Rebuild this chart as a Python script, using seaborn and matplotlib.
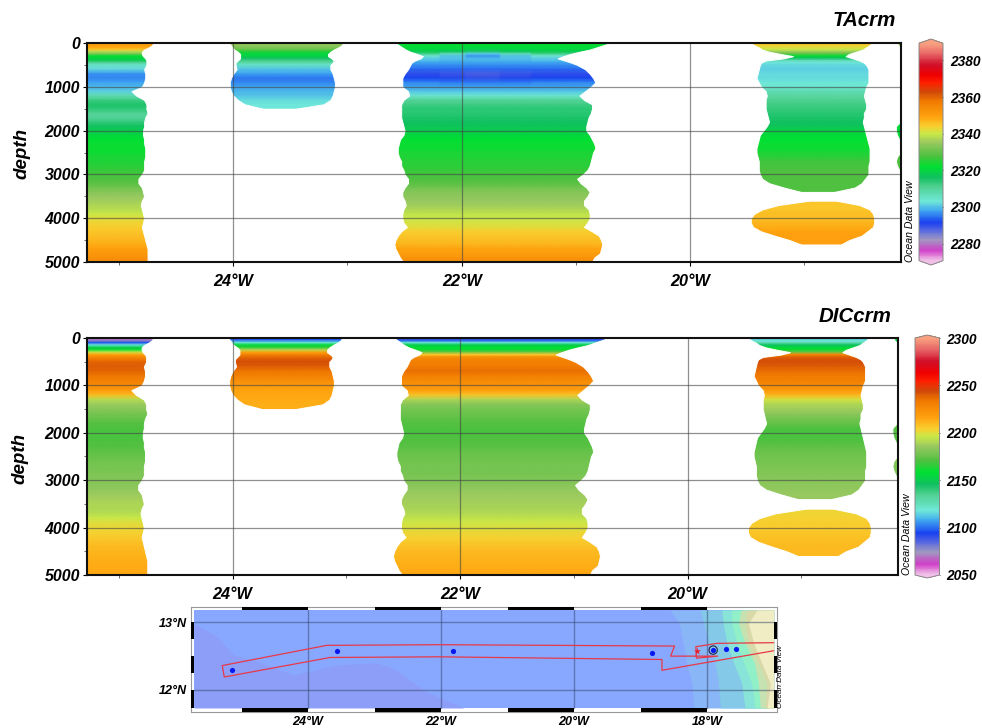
#!/usr/bin/env python3
"""TA and DIC sections along 12.5N, with the cruise track map underneath."""

import numpy as np
import pandas as pd
import matplotlib
matplotlib.use("Agg")
import matplotlib.pyplot as plt
import seaborn as sns
from matplotlib.colors import LinearSegmentedColormap

nan = float("nan")

# Depth levels of the gridded section
LEVELS = [0, 50, 100, 150, 200, 250, 300, 350, 400, 450, 500,
          600, 700, 800, 900, 1000, 1100, 1200, 1300, 1400, 1500, 1600, 1700, 1800, 1900,
          2000, 2100, 2200, 2300, 2400, 2500, 2600, 2700, 2800, 2900,
          3000, 3100, 3200, 3300, 3400, 3500, 3600, 3700, 3800, 3900,
          4000, 4100, 4200, 4300, 4400, 4500, 4600, 4700, 4800, 4900, 5000]

# Data window edges of each station, longitude per level
ST1_EAST = [-24.70, -24.71, -24.74, -24.78, -24.80, -24.80, -24.79, -24.77, -24.76, -24.76, -24.76,
            -24.78, -24.77, -24.77, -24.78, -24.80, -24.89, -24.85, -24.78, -24.76, -24.76, -24.75,
            -24.77, -24.78, -24.78, -24.79, -24.79, -24.78, -24.78, -24.77, -24.77, -24.77, -24.78,
            -24.78, -24.78, -24.80, -24.83, -24.83, -24.80, -24.79, -24.78, -24.80, -24.81, -24.80,
            -24.79, -24.78, -24.79, -24.80, -24.79, -24.78, -24.77, -24.76, -24.75, -24.75, -24.75, -24.75]
ST2_WEST = [-24.04, -24.02, -24.01, -23.99, -23.96, -23.94, -23.94, -23.94, -23.96, -23.98, -23.98,
            -23.97, -24.00, -24.02, -24.03, -24.03, -24.02, -24.00, -23.96, -23.90, -23.74]
ST2_EAST = [-23.04, -23.05, -23.08, -23.12, -23.15, -23.17, -23.17, -23.14, -23.12, -23.13, -23.15,
            -23.15, -23.13, -23.12, -23.11, -23.11, -23.12, -23.13, -23.15, -23.21, -23.45]
ST3_WEST = [-22.58, -22.55, -22.52, -22.49, -22.45, -22.39, -22.34, -22.36, -22.41, -22.44, -22.45,
            -22.47, -22.50, -22.52, -22.52, -22.52, -22.47, -22.46, -22.51, -22.53, -22.53, -22.53,
            -22.53, -22.52, -22.51, -22.50, -22.51, -22.54, -22.55, -22.56, -22.56, -22.55, -22.53,
            -22.53, -22.51, -22.50, -22.47, -22.47, -22.50, -22.52, -22.52, -22.50, -22.49, -22.51,
            -22.52, -22.52, -22.51, -22.48, -22.53, -22.56, -22.58, -22.59, -22.58, -22.56, -22.54, -22.51]
ST3_EAST = [-20.70, -20.76, -20.82, -20.88, -20.97, -21.05, -21.11, -21.16, -21.10, -21.04, -20.99,
            -20.92, -20.88, -20.85, -20.83, -20.87, -20.92, -20.97, -20.93, -20.86, -20.86, -20.87,
            -20.89, -20.90, -20.91, -20.91, -20.88, -20.86, -20.84, -20.83, -20.85, -20.86, -20.87,
            -20.88, -20.90, -20.94, -20.99, -20.96, -20.91, -20.88, -20.90, -20.93, -20.93, -20.89,
            -20.88, -20.88, -20.90, -20.93, -20.86, -20.80, -20.78, -20.77, -20.78, -20.79, -20.84, -20.86]
# Station 4 has a gap at 3500 m, 0-3400 m first and then 3600-4600 m
ST4_WEST = [-19.47, -19.44, -19.40, -19.37, -19.31, -19.21, -19.10, -19.18, -19.34, -19.38, -19.39,
            -19.40, -19.41, -19.42, -19.40, -19.38, -19.34, -19.33, -19.34, -19.34, -19.34, -19.33,
            -19.32, -19.31, -19.33, -19.36, -19.39, -19.40, -19.41, -19.42, -19.42, -19.41, -19.40,
            -19.40, -19.40, -19.39, -19.37, -19.31, -19.18, -19.03]
ST4_EAST = [-18.41, -18.43, -18.46, -18.49, -18.55, -18.61, -18.64, -18.58, -18.52, -18.48, -18.46,
            -18.44, -18.44, -18.44, -18.44, -18.46, -18.47, -18.48, -18.47, -18.46, -18.46, -18.48,
            -18.48, -18.49, -18.48, -18.47, -18.46, -18.45, -18.44, -18.43, -18.43, -18.43, -18.43,
            -18.44, -18.44, -18.44, -18.47, -18.50, -18.56, -18.74]
ST4_DEEP_WEST = [-18.96, -19.23, -19.37, -19.44, -19.47, -19.47, -19.45, -19.38, -19.26, -19.13, -19.03]
ST4_DEEP_EAST = [-18.72, -18.52, -18.43, -18.40, -18.39, -18.39, -18.40, -18.45, -18.50, -18.61, -18.68]
# Where the next station starts to show at the right edge
NEXT_WEST = [-18.19, -18.18, -18.16, -18.15, -18.15, -18.15, -18.15, -18.15, -18.15, -18.15, -18.15,
             -18.15, -18.15, -18.15, -18.15, -18.15, -18.15, -18.15, -18.15, -18.15, -18.15, -18.15,
             -18.15, -18.16, -18.20, -18.20, -18.19, -18.17, -18.15, -18.15, -18.16, -18.19, -18.20,
             -18.19, -18.17, -18.15, -18.15, -18.15, -18.15, -18.15, -18.15, -18.15, -18.15, -18.15,
             -18.15, -18.15, -18.15, -18.15, -18.15, -18.15, -18.15, -18.15, -18.15, -18.15, -18.15, -18.15]

# TAcrm profiles
TA_ST1 = [2350, 2350, 2349, 2345, 2338, 2333, 2322, 2320, 2318, 2311, 2305,
          2302, 2297, 2296, 2298, 2299, 2301, 2307, 2312, 2315, 2314, 2311, 2310, 2313, 2316,
          2318, 2320, 2322, 2323, 2323, 2323, 2324, 2324, 2325, 2326,
          2327, 2328, 2329, 2331, 2333, 2335, 2336, 2337, 2338, 2340,
          2342, 2343, 2344, 2345, 2346, 2347, 2348, 2350, 2351, 2353, 2354]
TA_ST2 = [2335, 2334, 2333, 2330, 2325, 2320, 2320, 2316, 2312, 2309, 2305,
          2300, 2298, 2295, 2296, 2298, 2299, 2300, 2302, 2303, 2303]
TA_ST3 = [2323, 2322, 2321, 2320, 2318, 2312, 2304, 2301, 2300, 2298, 2297,
          2294, 2290, 2292, 2296, 2298, 2300, 2304, 2310, 2312, 2314, 2314, 2315, 2316, 2317,
          2318, 2320, 2322, 2323, 2323, 2324, 2324, 2325, 2325, 2326,
          2327, 2328, 2329, 2331, 2333, 2334, 2335, 2336, 2337, 2339,
          2340, 2341, 2342, 2344, 2345, 2346, 2347, 2349, 2350, 2352, 2354]
TA_ST3_MID = [2323, 2322, 2321, 2320, 2317, 2307, 2300, 2300, 2299, 2298, 2297,
              2294, 2289, 2291, 2295, 2298]
TA_ST3_CORE = [2323, 2322, 2321, 2319, 2315, 2301, 2297, 2299, 2299, 2298, 2297,
               2294, 2288, 2290, 2295, 2298]
TA_ST4 = [2345, 2344, 2342, 2340, 2336, 2330, 2322, 2316, 2307, 2303, 2302,
          2301, 2302, 2302, 2303, 2304, 2307, 2309, 2311, 2312, 2313, 2314, 2315, 2316, 2317,
          2319, 2321, 2322, 2323, 2323, 2324, 2325, 2327, 2327, 2328,
          2328, 2328, 2328, 2328, 2328, nan, 2345, 2345, 2345, 2346,
          2346, 2347, 2348, 2349, 2350, 2350, 2350]

# DICcrm profiles
DIC_ST1 = [2065, 2072, 2095, 2118, 2150, 2160, 2195, 2215, 2226, 2232, 2238,
           2240, 2238, 2234, 2230, 2226, 2220, 2210, 2192, 2186, 2182, 2178, 2175, 2172, 2171,
           2170, 2170, 2171, 2172, 2174, 2175, 2177, 2178, 2179, 2180,
           2181, 2182, 2184, 2186, 2188, 2190, 2190, 2192, 2196, 2200,
           2202, 2204, 2206, 2208, 2210, 2211, 2212, 2213, 2214, 2214, 2215]
DIC_ST2 = [2094, 2100, 2118, 2155, 2165, 2190, 2215, 2228, 2236, 2240, 2243,
           2240, 2234, 2230, 2224, 2220, 2216, 2215, 2214, 2213, 2213]
DIC_ST3 = [2085, 2095, 2118, 2150, 2158, 2160, 2175, 2205, 2222, 2228, 2230,
           2232, 2236, 2230, 2226, 2222, 2218, 2208, 2190, 2182, 2178, 2176, 2174, 2172, 2171,
           2170, 2171, 2172, 2173, 2175, 2176, 2177, 2178, 2178, 2179,
           2180, 2182, 2184, 2186, 2187, 2188, 2189, 2191, 2194, 2197,
           2199, 2202, 2204, 2206, 2208, 2210, 2211, 2212, 2213, 2214, 2215]
DIC_ST4 = [2110, 2118, 2125, 2145, 2155, 2160, 2175, 2225, 2238, 2242, 2243,
           2240, 2236, 2232, 2230, 2226, 2220, 2212, 2198, 2190, 2187, 2183, 2178, 2175, 2171,
           2170, 2170, 2172, 2174, 2176, 2177, 2178, 2179, 2180, 2181,
           2182, 2183, 2184, 2185, 2185, nan, 2203, 2203, 2204, 2205,
           2206, 2207, 2208, 2209, 2210, 2210, 2210]

# Next station at the right edge, three depth ranges
NEXT_TOPS = [0, 1700, 2400]
NEXT_BOTS = [150, 2300, 3000]
NEXT_TA = [2335, 2321, 2328]
NEXT_DIC = [2155, 2172, 2180]

TA_TICKS = [2280, 2300, 2320, 2340, 2360, 2380]
DIC_TICKS = [2050, 2100, 2150, 2200, 2250, 2300]
DEPTH_TICKS = [0, 1000, 2000, 3000, 4000, 5000]
SECTION_LON_TICKS = [-24, -22, -20]
SECTION_LON_MINOR = [-25, -23, -21, -19]

# Map data
STATION_LON = [-25.14, -23.56, -21.82, -18.83, -17.91, -17.72, -17.57]
STATION_LAT = [12.29, 12.58, 12.57, 12.55, 12.59, 12.60, 12.60]
TRACK_LON = [-17.00, -17.85, -18.17, -18.16, -17.84, -18.55, -18.49, -22.02, -23.72, -25.29,
             -25.26, -23.67, -22.02, -18.68, -18.68, -17.00]
TRACK_LAT = [12.70, 12.69, 12.64, 12.47, 12.50, 12.50, 12.65, 12.67, 12.66, 12.36,
             12.19, 12.48, 12.49, 12.45, 12.29, 12.58]
DEEP_LON = [-25.71, -25.37, -25.12, -24.77, -24.22, -23.57, -22.97, -22.72, -22.22, -21.66]
DEEP_LAT = [12.99, 12.79, 12.52, 12.42, 12.22, 12.37, 12.40, 12.32, 11.97, 11.73]
SHELF_LAT = [13.185, 12.99, 12.69, 12.40, 12.10, 11.73]
SHELF_1 = [-18.56, -18.42, -18.36, -18.31, -18.23, -18.20]
SHELF_2 = [-18.10, -18.05, -17.98, -17.88, -17.83, -17.80]
SHELF_3 = [-17.78, -17.76, -17.70, -17.60, -17.48, -17.43]
SHELF_4 = [-17.63, -17.63, -17.55, -17.45, -17.33, -17.28]
SHELF_5 = [-17.49, -17.53, -17.43, -17.29, -17.23, -17.20]
SHELF_6 = [-17.40, -17.43, -17.38, -17.23, -17.10, -17.13]
SHELF_7 = [-17.25, -17.38, -17.30, -17.18, -17.05, -17.10]
SHELF_COLORS = ["#88B6F6", "#84CAE8", "#88E4D8", "#92F0C8", "#C6E2B0", "#D8D8A8", "#F0ECC4"]

sns.set_theme(style="white")
plt.rcParams["font.family"] = ["Liberation Sans", "DejaVu Sans"]
plt.rcParams["text.color"] = "black"
plt.rcParams["xtick.color"] = "black"
plt.rcParams["ytick.color"] = "black"

W, H = 982, 728
LON_W, LON_E, DLON = -25.28, -18.15, 0.025

odv = LinearSegmentedColormap.from_list("odv", [
    (0.0, "#F0C0E8"), (0.045, "#D040C8"), (0.095, "#A098C0"), (0.137, "#5868E0"), (0.175, "#1840F0"),
    (0.23, "#40A8F0"), (0.272, "#70E8D8"), (0.34, "#50D090"), (0.382, "#10C060"), (0.433, "#00E030"),
    (0.483, "#50C040"), (0.542, "#98C860"), (0.584, "#C8E848"), (0.618, "#F8D030"), (0.66, "#FFA510"),
    (0.736, "#F07800"), (0.778, "#D04808"), (0.82, "#FF2000"), (0.854, "#F00000"), (0.904, "#D0102A"),
    (0.955, "#E86868"), (1.0, "#F8A080")])
odv.set_under("#F0C0E8")
odv.set_over("#F8A080")
odv.set_bad("white")


def px_axes(fig, x0, y0, x1, y1):
    return fig.add_axes([x0 / W, 1 - y1 / H, (x1 - x0) / W, (y1 - y0) / H])


def lon_label(lon):
    return f"{abs(lon)}°W"


def row_to_depth(row):
    return np.interp(row, np.arange(len(LEVELS)), LEVELS)


def depth_to_row(depth):
    return np.interp(depth, LEVELS, np.arange(len(LEVELS)))


def to_col(lon):
    return (np.asarray(lon) - LON_W) / DLON


def build_section(st1, st2, st3, st4, next_vals, st3_mid=None, st3_core=None):
    """Every station profile holds across its own stretch of longitude, the gaps are masked later"""
    lons = LON_W + DLON * np.arange(round((LON_E - LON_W) / DLON) + 1)
    grid = np.full((len(LEVELS), len(lons)), np.nan)

    def put(west, east, vals):
        grid[:len(vals), (lons >= west) & (lons <= east)] = np.array(vals)[:, None]

    put(LON_W, -24.4, st1)
    put(-24.4, -22.85, st2)
    put(-22.85, -20.2, st3)
    put(-20.2, -18.3, st4)
    if st3_mid is not None:
        put(-22.20, -21.40, st3_mid)
        put(-21.97, -21.68, st3_core)
    depth = np.array(LEVELS)
    for top, bot, v in zip(NEXT_TOPS, NEXT_BOTS, next_vals):
        grid[np.ix_((depth >= top) & (depth <= bot), lons > -18.3)] = v
    return pd.DataFrame(grid, index=LEVELS, columns=lons)


def mask_gaps(ax):
    """Paint the stretches without data white, between the station window edges"""
    rows = np.arange(len(LEVELS))

    def gap(first, west, east):
        r = rows[first:first + len(west)]
        # thin white edge so neighbouring gaps leave no seam
        ax.fill_betweenx(r, to_col(west), to_col(east), facecolor="white", edgecolor="white",
                         lw=0.7, zorder=2)

    gap(0, ST1_EAST[:21], ST2_WEST)
    gap(0, ST2_EAST, ST3_WEST[:21])
    gap(20, ST1_EAST[20:], ST3_WEST[20:])
    gap(0, ST3_EAST[:40], ST4_WEST)
    gap(0, ST4_EAST, NEXT_WEST[:40])
    gap(39, ST3_EAST[39:42], NEXT_WEST[39:42])
    gap(41, ST3_EAST[41:52], ST4_DEEP_WEST)
    gap(41, ST4_DEEP_EAST, NEXT_WEST[41:52])
    gap(51, ST3_EAST[51:], NEXT_WEST[51:])


def draw_section(fig, box, cbar_box, table, vmin, vmax, ticks, extendfrac):
    ax = px_axes(fig, *box)
    cax = px_axes(fig, *cbar_box)
    sns.heatmap(table, ax=ax, cbar_ax=cax, cmap=odv, vmin=vmin, vmax=vmax,
                xticklabels=False, yticklabels=False, shading="gouraud",
                cbar_kws={"extend": "both", "extendfrac": extendfrac})
    mask_gaps(ax)

    # Rows are the depth levels, the scale spaces them by depth
    ax.set_yscale("function", functions=(row_to_depth, depth_to_row))
    ax.set_xlim(0, table.shape[1] - 1)
    ax.set_ylim(table.shape[0] - 1, 0)

    for d in DEPTH_TICKS[1:-1]:
        ax.axhline(depth_to_row(d), color="#444444", alpha=0.6, lw=0.9, zorder=3)
    for lon in SECTION_LON_TICKS:
        ax.axvline(to_col(lon), color="#444444", alpha=0.6, lw=0.9, zorder=3)

    ax.set_xticks([to_col(v) for v in SECTION_LON_TICKS])
    ax.set_xticklabels([lon_label(v) for v in SECTION_LON_TICKS], rotation=0,
                       fontsize=11.7, fontweight="bold", fontstyle="italic")
    ax.set_xticks([to_col(v) for v in SECTION_LON_MINOR], minor=True)
    ax.set_yticks([depth_to_row(v) for v in DEPTH_TICKS])
    ax.set_yticklabels(DEPTH_TICKS, rotation=0, fontsize=11.4, fontweight="bold", fontstyle="italic")
    ax.set_yticks([depth_to_row(v + 500) for v in DEPTH_TICKS[:-1]], minor=True)
    ax.tick_params(axis="x", which="major", bottom=True, length=3, width=0.8, pad=5.5)
    ax.tick_params(axis="x", which="minor", bottom=True, length=2, width=0.6, color="#555555")
    ax.tick_params(axis="y", which="major", left=True, length=3, width=0.8, pad=2)
    ax.tick_params(axis="y", which="minor", left=True, length=2, width=0.6, color="#555555")
    for sp in ax.spines.values():
        sp.set_visible(True)
        sp.set_color("#111111")
        sp.set_linewidth(1.5)
        sp.set_zorder(4)

    cb = ax.collections[0].colorbar
    cb.set_ticks(ticks)
    cb.set_ticklabels(ticks, fontsize=9.9, fontweight="bold", fontstyle="italic")
    cb.ax.tick_params(axis="y", which="both", left=True, right=True, direction="in",
                      length=3.5, width=0.7, color="#444444", pad=5)
    cb.outline.set_visible(True)
    cb.outline.set_edgecolor("#888888")
    cb.outline.set_linewidth(0.7)
    return ax


def draw_map(fig):
    ax = px_axes(fig, 191, 607, 777, 712)
    west, east, south, north = -25.71, -17.0, 11.73, 13.185
    ax.set_xlim(-25.76, -16.95)
    ax.set_ylim(11.67, 13.23)

    ax.fill_between([west, east], south, north, color="#88A8FF", lw=0, zorder=1)
    ax.fill_between(DEEP_LON, DEEP_LAT, south, color="#8C9EF8", lw=0, zorder=1.1)
    shelves = [SHELF_1, SHELF_2, SHELF_3, SHELF_4, SHELF_5, SHELF_6, SHELF_7]
    for i, (shelf, col) in enumerate(zip(shelves, SHELF_COLORS)):
        ax.fill_betweenx(SHELF_LAT, shelf, east, color=col, lw=0, zorder=1.2 + i * 0.01)

    for lon in [-24, -22, -20, -18]:
        ax.plot([lon, lon], [south, north], color="#334466", alpha=0.5, lw=1.0, zorder=2)
    for lat in [12, 13]:
        ax.plot([west, east], [lat, lat], color="#334466", alpha=0.5, lw=1.0, zorder=2)

    track = pd.DataFrame({"lon": TRACK_LON, "lat": TRACK_LAT})
    sns.lineplot(data=track, x="lon", y="lat", sort=False, estimator=None, ax=ax,
                 color="#E83848", lw=0.9, zorder=3)
    stations = pd.DataFrame({"lon": STATION_LON, "lat": STATION_LAT})
    sns.scatterplot(data=stations, x="lon", y="lat", ax=ax, color="#0818F0", s=14,
                    linewidth=0, zorder=5)
    ax.scatter([-17.91], [12.59], s=36, facecolor="none", edgecolor="#222244", lw=0.8, zorder=5)
    ax.scatter([-18.16], [12.57], s=28, marker="*", color="#E82030", lw=0, zorder=4)

    # Checkered frame
    for lon in [-25, -23, -21, -19]:
        ax.fill_between([lon, lon + 1], north, 13.225, color="black", lw=0, zorder=6)
        ax.fill_between([lon, lon + 1], 11.675, south, color="black", lw=0, zorder=6)
    for lat in [11.73, 12.25, 12.75]:
        top = 12.0 if lat == 11.73 else lat + 0.25
        ax.fill_betweenx([lat, top], -25.755, west, color="black", lw=0, zorder=6)
        ax.fill_betweenx([lat, top], east, -16.955, color="black", lw=0, zorder=6)

    ax.set_xlabel("")
    ax.set_ylabel("")
    ax.set_xticks([-24, -22, -20, -18])
    ax.set_xticklabels([lon_label(v) for v in [-24, -22, -20, -18]],
                       fontsize=9.1, fontweight="bold", fontstyle="italic")
    ax.set_yticks([12, 13])
    ax.set_yticklabels(["12°N", "13°N"], fontsize=9.1, fontweight="bold", fontstyle="italic")
    ax.tick_params(axis="both", length=0, pad=3)
    for sp in ax.spines.values():
        sp.set_visible(True)
        sp.set_color("#999999")
        sp.set_linewidth(0.8)


fig = plt.figure(figsize=(W / 100, H / 100), dpi=100)

ta_table = build_section(TA_ST1, TA_ST2, TA_ST3, TA_ST4, NEXT_TA, TA_ST3_MID, TA_ST3_CORE)
dic_table = build_section(DIC_ST1, DIC_ST2, DIC_ST3, DIC_ST4, NEXT_DIC)

draw_section(fig, (87, 43, 901, 262), (919, 39, 943, 265), ta_table, 2270.7, 2389.3, TA_TICKS, 0.02)
draw_section(fig, (87, 338, 897.5, 575), (915, 335, 939.5, 578), dic_table, 2050, 2300, DIC_TICKS, 0.0127)
draw_map(fig)

label = dict(fontweight="bold", fontstyle="italic")
fig.text(896 / W, 1 - 20 / H, "TAcrm", ha="right", va="center", fontsize=14.8, **label)
fig.text(892 / W, 1 - 316 / H, "DICcrm", ha="right", va="center", fontsize=14.8, **label)
fig.text(22 / W, 1 - 153 / H, "depth", rotation=90, ha="center", va="center", fontsize=13.5, **label)
fig.text(20 / W, 1 - 458 / H, "depth", rotation=90, ha="center", va="center", fontsize=13.5, **label)
fig.text(910 / W, 1 - 221 / H, "Ocean Data View", rotation=90, ha="center", va="center", fontsize=7.6, fontstyle="italic")
fig.text(906.5 / W, 1 - 534 / H, "Ocean Data View", rotation=90, ha="center", va="center", fontsize=7.6, fontstyle="italic")
fig.text(781 / W, 1 - 677 / H, "Ocean Data View", rotation=90, ha="center", va="center", fontsize=5.9, fontstyle="italic")

fig.savefig("out.png", dpi=100)
